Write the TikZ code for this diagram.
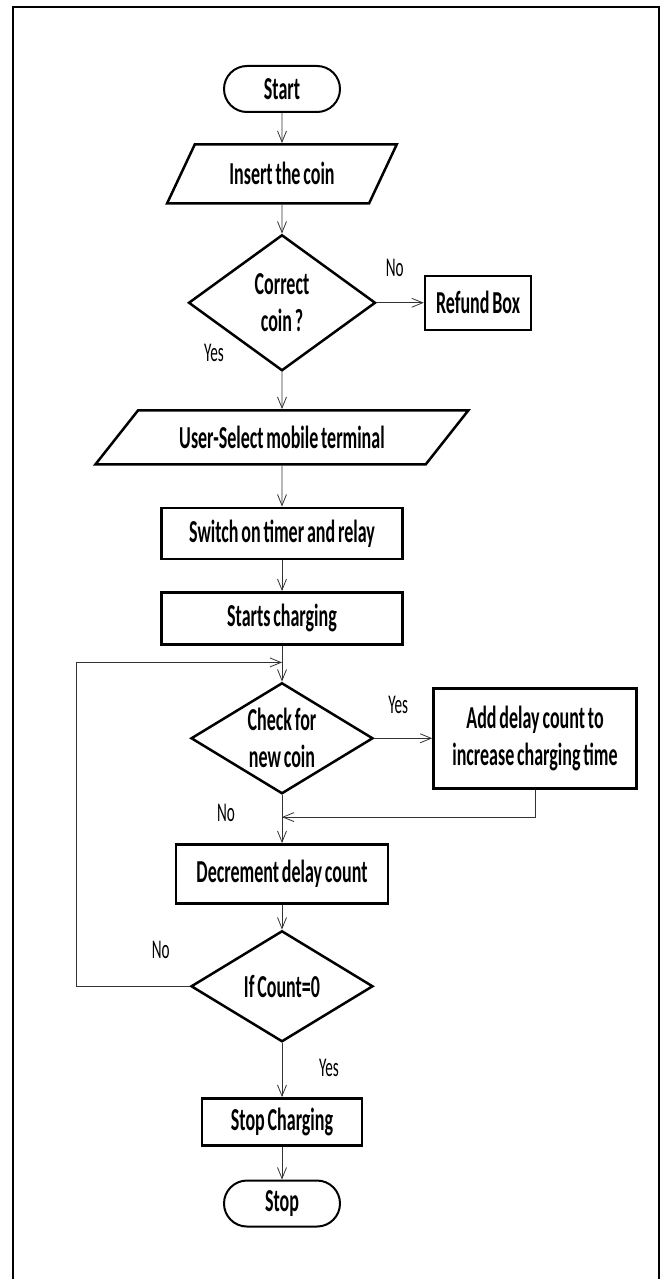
\documentclass[tikz,border=0pt]{standalone}
\usepackage{fontspec}
\setmainfont{Carlito}[FakeStretch=0.5625,WordSpace=0.7]
\usetikzlibrary{positioning}
\usetikzlibrary{shapes.geometric}
\usetikzlibrary{arrows.meta}
\usetikzlibrary{calc}
\newcommand\boxfont{\fontsize{32}{37}\selectfont\bfseries}
\newcommand\lblfont{\fontsize{27}{30}\selectfont}

\begin{document}
\begin{tikzpicture}[x=1pt,y=-1pt]
\tikzset{
  terminal/.style={rectangle,rounded corners=23pt,draw=black,line width=2pt,text centered,font=\boxfont,minimum width=116pt,minimum height=46pt},
  io/.style={trapezium,trapezium stretches=true,draw=black,line width=2.5pt,text centered,font=\boxfont,inner sep=0pt},
  process/.style={rectangle,draw=black,line width=2.5pt,align=center,font=\boxfont,inner sep=0pt},
  decision/.style={diamond,draw=black,line width=2.5pt,align=center,font=\boxfont,inner sep=0pt},
  lbl/.style={font=\lblfont,inner sep=0pt},
  arrow/.style={-{Straight Barb[length=11pt,width=9pt]},line width=0.8pt,draw=black!80},
}
\useasboundingbox (0,0) rectangle (666,1279);
\draw[line width=2.5pt] (13,1279) -- (13,7) -- (659,7) -- (659,1279);
%
\node[terminal] (start) at (282,89) {Start};
\node[io,below=30pt of start,minimum width=230pt,minimum height=59pt,trapezium left angle=53.6,trapezium right angle=126.4] (coin) {Insert the coin};
\node[decision,below=29pt of coin,minimum width=187pt,minimum height=136pt,aspect=1.37] (correct) {Correct\\coin ?};
\node[process,right=47pt of correct,minimum width=106pt,minimum height=54pt] (refund) {Refund Box};
\node[io,below=37pt of correct,minimum width=373pt,minimum height=54pt,trapezium left angle=36.7,trapezium right angle=143.3] (select) {User-Select mobile terminal};
\node[process,below=41pt of select,minimum width=241pt,minimum height=51pt] (timer) {Switch on timer and relay};
\node[process,below=31pt of timer,minimum width=241pt,minimum height=52pt] (charge) {Starts charging};
\node[decision,below=36pt of charge,minimum width=182pt,minimum height=111pt,aspect=1.63] (newcoin) {Check for\\new coin};
\node[process,right=58pt of newcoin,minimum width=203pt,minimum height=100pt] (adddelay) {Add delay count to\\increase charging time};
\node[process,below=48pt of newcoin,minimum width=212pt,minimum height=59pt] (decrement) {Decrement delay count};
\node[decision,below=25pt of decrement,minimum width=182pt,minimum height=111pt,aspect=1.63] (zero) {If Count=0};
\node[process,below=54pt of zero,minimum width=160pt,minimum height=47pt] (stopcharge) {Stop Charging};
\node[terminal,below=33pt of stopcharge] (stop) {Stop};
%
\coordinate (loopin) at ($(charge.south)!0.47!(newcoin.north)$);
\coordinate (merge) at ($(newcoin.south)!0.46!(decrement.north)$);
%
\node[lbl] (no1) at ([xshift=18pt,yshift=35pt]correct.east) {No};
\node[lbl] (yes1) at ([xshift=-68pt,yshift=19pt]correct.south) {Yes};
\node[lbl] (yes2) at ([xshift=24pt,yshift=33pt]newcoin.east) {Yes};
\node[lbl] (no2) at ([xshift=-56pt,yshift=-18pt]newcoin.south) {No};
\node[lbl] (no3) at ([xshift=-29pt,yshift=36pt]zero.west) {No};
\node[lbl] (yes3) at ([xshift=47pt,yshift=-25pt]zero.south) {Yes};
%
\path[arrow] (start) -- (coin);
\path[arrow] (coin) -- (correct);
\path[arrow] (correct) -- (refund);
\path[arrow] (correct) -- (select);
\path[arrow] (select) -- (timer);
\path[arrow] (timer) -- (charge);
\path[arrow] (charge) -- (newcoin);
\path[arrow] (newcoin) -- (adddelay);
\path[arrow] (newcoin) -- (decrement);
\path[arrow] (adddelay.south) |- (merge);
\path[arrow] (decrement) -- (zero);
\path[arrow] (zero.west) -- ([xshift=-113pt]zero.west) |- (loopin);
\path[arrow] (zero) -- (stopcharge);
\path[arrow] (stopcharge) -- (stop);
\end{tikzpicture}
\end{document}
